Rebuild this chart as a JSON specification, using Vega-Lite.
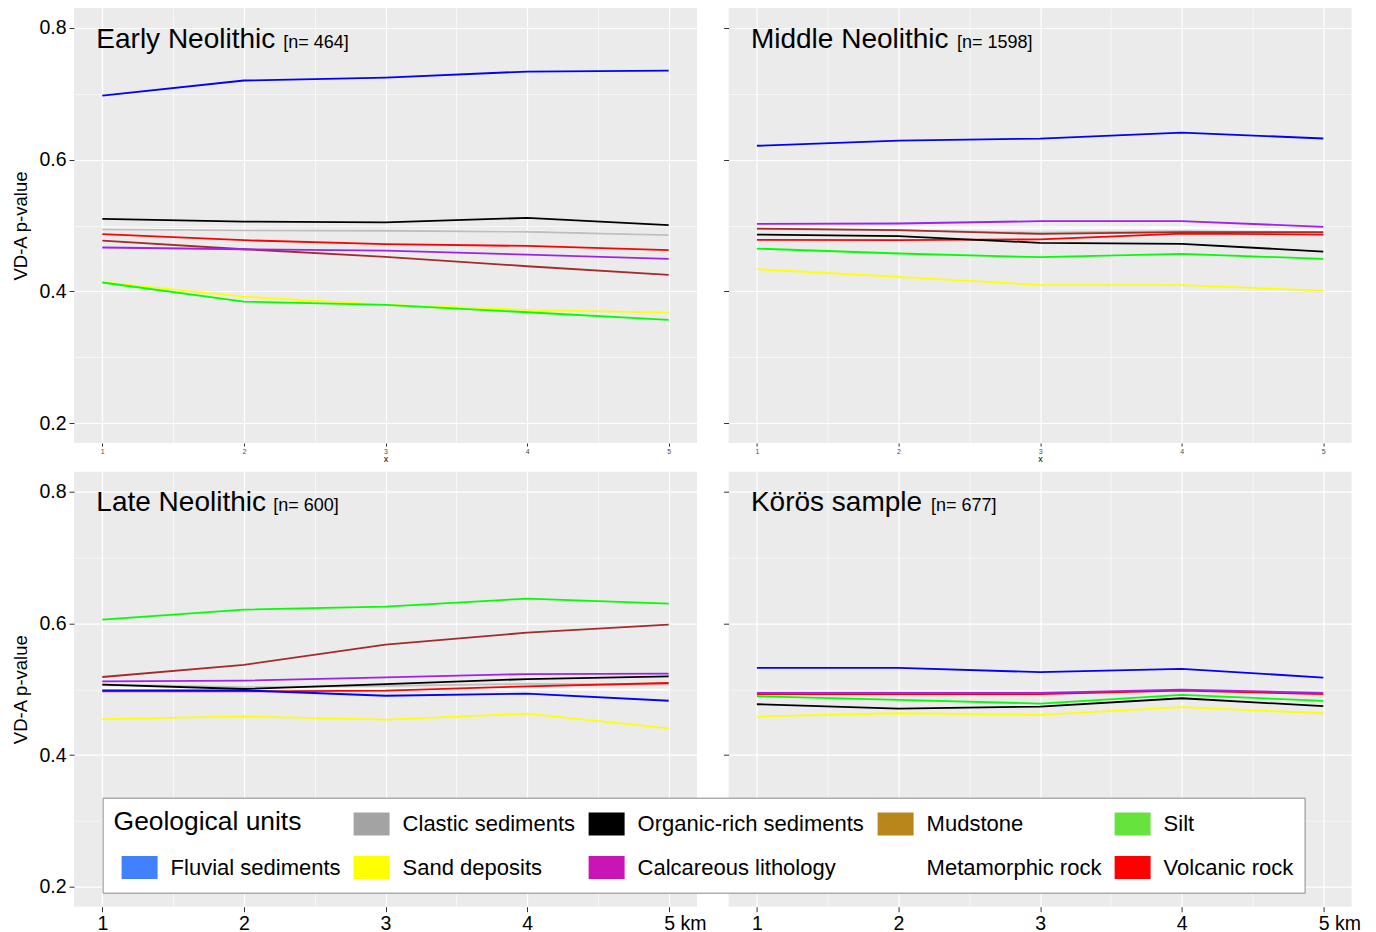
{
  "$schema": "https://vega.github.io/schema/vega-lite/v6.json",
  "autosize": {"type": "pad"},
  "padding": {"left": 11, "top": 8, "right": 0, "bottom": 0},
  "background": "#ffffff",
  "config": {
    "font": "Liberation Sans",
    "view": {"fill": "#ebebeb", "stroke": null},
    "axis": {
      "domain": false,
      "grid": true,
      "gridColor": "#ffffff",
      "tickColor": "#333333",
      "tickWidth": 1,
      "labelFont": "Liberation Sans",
      "titleFont": "Liberation Sans",
      "titleFontWeight": "normal",
      "titleColor": "#000000",
      "labelColor": "#000000"
    }
  },
  "datasets": {
    "vda": [
      {"period": "Early Neolithic", "unit": "Metamorphic rock", "km": 1, "p": 0.4955},
      {"period": "Early Neolithic", "unit": "Metamorphic rock", "km": 2, "p": 0.494},
      {"period": "Early Neolithic", "unit": "Metamorphic rock", "km": 3, "p": 0.4925},
      {"period": "Early Neolithic", "unit": "Metamorphic rock", "km": 4, "p": 0.4915},
      {"period": "Early Neolithic", "unit": "Metamorphic rock", "km": 5, "p": 0.4855},
      {"period": "Early Neolithic", "unit": "Clastic sediments", "km": 1, "p": 0.494},
      {"period": "Early Neolithic", "unit": "Clastic sediments", "km": 2, "p": 0.4925},
      {"period": "Early Neolithic", "unit": "Clastic sediments", "km": 3, "p": 0.492},
      {"period": "Early Neolithic", "unit": "Clastic sediments", "km": 4, "p": 0.4905},
      {"period": "Early Neolithic", "unit": "Clastic sediments", "km": 5, "p": 0.4855},
      {"period": "Early Neolithic", "unit": "Mudstone", "km": 1, "p": 0.4772},
      {"period": "Early Neolithic", "unit": "Mudstone", "km": 2, "p": 0.464},
      {"period": "Early Neolithic", "unit": "Mudstone", "km": 3, "p": 0.4524},
      {"period": "Early Neolithic", "unit": "Mudstone", "km": 4, "p": 0.4382},
      {"period": "Early Neolithic", "unit": "Mudstone", "km": 5, "p": 0.425},
      {"period": "Early Neolithic", "unit": "Volcanic rock", "km": 1, "p": 0.4868},
      {"period": "Early Neolithic", "unit": "Volcanic rock", "km": 2, "p": 0.4777},
      {"period": "Early Neolithic", "unit": "Volcanic rock", "km": 3, "p": 0.4716},
      {"period": "Early Neolithic", "unit": "Volcanic rock", "km": 4, "p": 0.469},
      {"period": "Early Neolithic", "unit": "Volcanic rock", "km": 5, "p": 0.4625},
      {"period": "Early Neolithic", "unit": "Calcareous lithology", "km": 1, "p": 0.4666},
      {"period": "Early Neolithic", "unit": "Calcareous lithology", "km": 2, "p": 0.464},
      {"period": "Early Neolithic", "unit": "Calcareous lithology", "km": 3, "p": 0.462},
      {"period": "Early Neolithic", "unit": "Calcareous lithology", "km": 4, "p": 0.4557},
      {"period": "Early Neolithic", "unit": "Calcareous lithology", "km": 5, "p": 0.4494},
      {"period": "Early Neolithic", "unit": "Sand deposits", "km": 1, "p": 0.414},
      {"period": "Early Neolithic", "unit": "Sand deposits", "km": 2, "p": 0.392},
      {"period": "Early Neolithic", "unit": "Sand deposits", "km": 3, "p": 0.3795},
      {"period": "Early Neolithic", "unit": "Sand deposits", "km": 4, "p": 0.372},
      {"period": "Early Neolithic", "unit": "Sand deposits", "km": 5, "p": 0.3678},
      {"period": "Early Neolithic", "unit": "Silt", "km": 1, "p": 0.4135},
      {"period": "Early Neolithic", "unit": "Silt", "km": 2, "p": 0.3846},
      {"period": "Early Neolithic", "unit": "Silt", "km": 3, "p": 0.3795},
      {"period": "Early Neolithic", "unit": "Silt", "km": 4, "p": 0.3684},
      {"period": "Early Neolithic", "unit": "Silt", "km": 5, "p": 0.3567},
      {"period": "Early Neolithic", "unit": "Organic-rich sediments", "km": 1, "p": 0.51},
      {"period": "Early Neolithic", "unit": "Organic-rich sediments", "km": 2, "p": 0.506},
      {"period": "Early Neolithic", "unit": "Organic-rich sediments", "km": 3, "p": 0.5046},
      {"period": "Early Neolithic", "unit": "Organic-rich sediments", "km": 4, "p": 0.5116},
      {"period": "Early Neolithic", "unit": "Organic-rich sediments", "km": 5, "p": 0.5005},
      {"period": "Early Neolithic", "unit": "Fluvial sediments", "km": 1, "p": 0.697},
      {"period": "Early Neolithic", "unit": "Fluvial sediments", "km": 2, "p": 0.72},
      {"period": "Early Neolithic", "unit": "Fluvial sediments", "km": 3, "p": 0.7245},
      {"period": "Early Neolithic", "unit": "Fluvial sediments", "km": 4, "p": 0.7336},
      {"period": "Early Neolithic", "unit": "Fluvial sediments", "km": 5, "p": 0.735},

      {"period": "Middle Neolithic", "unit": "Metamorphic rock", "km": 1, "p": 0.497},
      {"period": "Middle Neolithic", "unit": "Metamorphic rock", "km": 2, "p": 0.4965},
      {"period": "Middle Neolithic", "unit": "Metamorphic rock", "km": 3, "p": 0.4955},
      {"period": "Middle Neolithic", "unit": "Metamorphic rock", "km": 4, "p": 0.4965},
      {"period": "Middle Neolithic", "unit": "Metamorphic rock", "km": 5, "p": 0.493},
      {"period": "Middle Neolithic", "unit": "Clastic sediments", "km": 1, "p": 0.4945},
      {"period": "Middle Neolithic", "unit": "Clastic sediments", "km": 2, "p": 0.4925},
      {"period": "Middle Neolithic", "unit": "Clastic sediments", "km": 3, "p": 0.489},
      {"period": "Middle Neolithic", "unit": "Clastic sediments", "km": 4, "p": 0.4915},
      {"period": "Middle Neolithic", "unit": "Clastic sediments", "km": 5, "p": 0.489},
      {"period": "Middle Neolithic", "unit": "Mudstone", "km": 1, "p": 0.4954},
      {"period": "Middle Neolithic", "unit": "Mudstone", "km": 2, "p": 0.493},
      {"period": "Middle Neolithic", "unit": "Mudstone", "km": 3, "p": 0.4873},
      {"period": "Middle Neolithic", "unit": "Mudstone", "km": 4, "p": 0.49},
      {"period": "Middle Neolithic", "unit": "Mudstone", "km": 5, "p": 0.4899},
      {"period": "Middle Neolithic", "unit": "Volcanic rock", "km": 1, "p": 0.4782},
      {"period": "Middle Neolithic", "unit": "Volcanic rock", "km": 2, "p": 0.4777},
      {"period": "Middle Neolithic", "unit": "Volcanic rock", "km": 3, "p": 0.479},
      {"period": "Middle Neolithic", "unit": "Volcanic rock", "km": 4, "p": 0.4878},
      {"period": "Middle Neolithic", "unit": "Volcanic rock", "km": 5, "p": 0.4863},
      {"period": "Middle Neolithic", "unit": "Calcareous lithology", "km": 1, "p": 0.5025},
      {"period": "Middle Neolithic", "unit": "Calcareous lithology", "km": 2, "p": 0.503},
      {"period": "Middle Neolithic", "unit": "Calcareous lithology", "km": 3, "p": 0.5066},
      {"period": "Middle Neolithic", "unit": "Calcareous lithology", "km": 4, "p": 0.5066},
      {"period": "Middle Neolithic", "unit": "Calcareous lithology", "km": 5, "p": 0.498},
      {"period": "Middle Neolithic", "unit": "Sand deposits", "km": 1, "p": 0.4337},
      {"period": "Middle Neolithic", "unit": "Sand deposits", "km": 2, "p": 0.422},
      {"period": "Middle Neolithic", "unit": "Sand deposits", "km": 3, "p": 0.4099},
      {"period": "Middle Neolithic", "unit": "Sand deposits", "km": 4, "p": 0.4094},
      {"period": "Middle Neolithic", "unit": "Sand deposits", "km": 5, "p": 0.4013},
      {"period": "Middle Neolithic", "unit": "Silt", "km": 1, "p": 0.465},
      {"period": "Middle Neolithic", "unit": "Silt", "km": 2, "p": 0.4575},
      {"period": "Middle Neolithic", "unit": "Silt", "km": 3, "p": 0.4519},
      {"period": "Middle Neolithic", "unit": "Silt", "km": 4, "p": 0.457},
      {"period": "Middle Neolithic", "unit": "Silt", "km": 5, "p": 0.4494},
      {"period": "Middle Neolithic", "unit": "Organic-rich sediments", "km": 1, "p": 0.4863},
      {"period": "Middle Neolithic", "unit": "Organic-rich sediments", "km": 2, "p": 0.4838},
      {"period": "Middle Neolithic", "unit": "Organic-rich sediments", "km": 3, "p": 0.4737},
      {"period": "Middle Neolithic", "unit": "Organic-rich sediments", "km": 4, "p": 0.4722},
      {"period": "Middle Neolithic", "unit": "Organic-rich sediments", "km": 5, "p": 0.4605},
      {"period": "Middle Neolithic", "unit": "Fluvial sediments", "km": 1, "p": 0.621},
      {"period": "Middle Neolithic", "unit": "Fluvial sediments", "km": 2, "p": 0.6288},
      {"period": "Middle Neolithic", "unit": "Fluvial sediments", "km": 3, "p": 0.6318},
      {"period": "Middle Neolithic", "unit": "Fluvial sediments", "km": 4, "p": 0.641},
      {"period": "Middle Neolithic", "unit": "Fluvial sediments", "km": 5, "p": 0.632},

      {"period": "Late Neolithic", "unit": "Metamorphic rock", "km": 1, "p": 0.5015},
      {"period": "Late Neolithic", "unit": "Metamorphic rock", "km": 2, "p": 0.5005},
      {"period": "Late Neolithic", "unit": "Metamorphic rock", "km": 3, "p": 0.5005},
      {"period": "Late Neolithic", "unit": "Metamorphic rock", "km": 4, "p": 0.5},
      {"period": "Late Neolithic", "unit": "Metamorphic rock", "km": 5, "p": 0.4995},
      {"period": "Late Neolithic", "unit": "Clastic sediments", "km": 1, "p": 0.507},
      {"period": "Late Neolithic", "unit": "Clastic sediments", "km": 2, "p": 0.503},
      {"period": "Late Neolithic", "unit": "Clastic sediments", "km": 3, "p": 0.505},
      {"period": "Late Neolithic", "unit": "Clastic sediments", "km": 4, "p": 0.508},
      {"period": "Late Neolithic", "unit": "Clastic sediments", "km": 5, "p": 0.507},
      {"period": "Late Neolithic", "unit": "Mudstone", "km": 1, "p": 0.5185},
      {"period": "Late Neolithic", "unit": "Mudstone", "km": 2, "p": 0.537},
      {"period": "Late Neolithic", "unit": "Mudstone", "km": 3, "p": 0.5676},
      {"period": "Late Neolithic", "unit": "Mudstone", "km": 4, "p": 0.5858},
      {"period": "Late Neolithic", "unit": "Mudstone", "km": 5, "p": 0.598},
      {"period": "Late Neolithic", "unit": "Volcanic rock", "km": 1, "p": 0.4967},
      {"period": "Late Neolithic", "unit": "Volcanic rock", "km": 2, "p": 0.4967},
      {"period": "Late Neolithic", "unit": "Volcanic rock", "km": 3, "p": 0.4977},
      {"period": "Late Neolithic", "unit": "Volcanic rock", "km": 4, "p": 0.5043},
      {"period": "Late Neolithic", "unit": "Volcanic rock", "km": 5, "p": 0.5094},
      {"period": "Late Neolithic", "unit": "Calcareous lithology", "km": 1, "p": 0.512},
      {"period": "Late Neolithic", "unit": "Calcareous lithology", "km": 2, "p": 0.513},
      {"period": "Late Neolithic", "unit": "Calcareous lithology", "km": 3, "p": 0.518},
      {"period": "Late Neolithic", "unit": "Calcareous lithology", "km": 4, "p": 0.523},
      {"period": "Late Neolithic", "unit": "Calcareous lithology", "km": 5, "p": 0.5235},
      {"period": "Late Neolithic", "unit": "Sand deposits", "km": 1, "p": 0.4547},
      {"period": "Late Neolithic", "unit": "Sand deposits", "km": 2, "p": 0.4587},
      {"period": "Late Neolithic", "unit": "Sand deposits", "km": 3, "p": 0.4537},
      {"period": "Late Neolithic", "unit": "Sand deposits", "km": 4, "p": 0.4628},
      {"period": "Late Neolithic", "unit": "Sand deposits", "km": 5, "p": 0.4405},
      {"period": "Late Neolithic", "unit": "Silt", "km": 1, "p": 0.6056},
      {"period": "Late Neolithic", "unit": "Silt", "km": 2, "p": 0.6208},
      {"period": "Late Neolithic", "unit": "Silt", "km": 3, "p": 0.6253},
      {"period": "Late Neolithic", "unit": "Silt", "km": 4, "p": 0.6375},
      {"period": "Late Neolithic", "unit": "Silt", "km": 5, "p": 0.6299},
      {"period": "Late Neolithic", "unit": "Organic-rich sediments", "km": 1, "p": 0.5068},
      {"period": "Late Neolithic", "unit": "Organic-rich sediments", "km": 2, "p": 0.5003},
      {"period": "Late Neolithic", "unit": "Organic-rich sediments", "km": 3, "p": 0.5078},
      {"period": "Late Neolithic", "unit": "Organic-rich sediments", "km": 4, "p": 0.5154},
      {"period": "Late Neolithic", "unit": "Organic-rich sediments", "km": 5, "p": 0.5195},
      {"period": "Late Neolithic", "unit": "Fluvial sediments", "km": 1, "p": 0.4982},
      {"period": "Late Neolithic", "unit": "Fluvial sediments", "km": 2, "p": 0.4982},
      {"period": "Late Neolithic", "unit": "Fluvial sediments", "km": 3, "p": 0.4901},
      {"period": "Late Neolithic", "unit": "Fluvial sediments", "km": 4, "p": 0.4932},
      {"period": "Late Neolithic", "unit": "Fluvial sediments", "km": 5, "p": 0.4825},

      {"period": "Körös sample", "unit": "Volcanic rock", "km": 1, "p": 0.4926},
      {"period": "Körös sample", "unit": "Volcanic rock", "km": 2, "p": 0.4926},
      {"period": "Körös sample", "unit": "Volcanic rock", "km": 3, "p": 0.4926},
      {"period": "Körös sample", "unit": "Volcanic rock", "km": 4, "p": 0.4977},
      {"period": "Körös sample", "unit": "Volcanic rock", "km": 5, "p": 0.4926},
      {"period": "Körös sample", "unit": "Calcareous lithology", "km": 1, "p": 0.4944},
      {"period": "Körös sample", "unit": "Calcareous lithology", "km": 2, "p": 0.4944},
      {"period": "Körös sample", "unit": "Calcareous lithology", "km": 3, "p": 0.4944},
      {"period": "Körös sample", "unit": "Calcareous lithology", "km": 4, "p": 0.4995},
      {"period": "Körös sample", "unit": "Calcareous lithology", "km": 5, "p": 0.4944},
      {"period": "Körös sample", "unit": "Sand deposits", "km": 1, "p": 0.4585},
      {"period": "Körös sample", "unit": "Sand deposits", "km": 2, "p": 0.4635},
      {"period": "Körös sample", "unit": "Sand deposits", "km": 3, "p": 0.461},
      {"period": "Körös sample", "unit": "Sand deposits", "km": 4, "p": 0.4727},
      {"period": "Körös sample", "unit": "Sand deposits", "km": 5, "p": 0.4635},
      {"period": "Körös sample", "unit": "Silt", "km": 1, "p": 0.4894},
      {"period": "Körös sample", "unit": "Silt", "km": 2, "p": 0.4838},
      {"period": "Körös sample", "unit": "Silt", "km": 3, "p": 0.4782},
      {"period": "Körös sample", "unit": "Silt", "km": 4, "p": 0.4914},
      {"period": "Körös sample", "unit": "Silt", "km": 5, "p": 0.4823},
      {"period": "Körös sample", "unit": "Organic-rich sediments", "km": 1, "p": 0.4772},
      {"period": "Körös sample", "unit": "Organic-rich sediments", "km": 2, "p": 0.4706},
      {"period": "Körös sample", "unit": "Organic-rich sediments", "km": 3, "p": 0.4737},
      {"period": "Körös sample", "unit": "Organic-rich sediments", "km": 4, "p": 0.4863},
      {"period": "Körös sample", "unit": "Organic-rich sediments", "km": 5, "p": 0.4742},
      {"period": "Körös sample", "unit": "Fluvial sediments", "km": 1, "p": 0.5324},
      {"period": "Körös sample", "unit": "Fluvial sediments", "km": 2, "p": 0.5324},
      {"period": "Körös sample", "unit": "Fluvial sediments", "km": 3, "p": 0.5258},
      {"period": "Körös sample", "unit": "Fluvial sediments", "km": 4, "p": 0.5309},
      {"period": "Körös sample", "unit": "Fluvial sediments", "km": 5, "p": 0.5177}
    ],
    "panels": [
      {"period": "Early Neolithic", "n": "[n= 464]"},
      {"period": "Middle Neolithic", "n": "[n= 1598]"},
      {"period": "Late Neolithic", "n": "[n= 600]"},
      {"period": "Körös sample", "n": "[n= 677]"}
    ]
  },
  "columns": 2,
  "bounds": "flush",
  "spacing": {"row": 28.7, "column": 31.6},
  "resolve": {
    "scale": {"x": "independent", "y": "independent", "stroke": "shared", "fill": "independent", "shape": "independent"},
    "legend": {"fill": "independent", "shape": "independent"}
  },
  "concat": [
    {
      "width": 623,
      "height": 435,
      "layer": [
        {
          "data": {"name": "vda"},
          "transform": [{"filter": "datum.period === 'Early Neolithic'"}],
          "mark": {"type": "line", "strokeWidth": 1.8},
          "encoding": {
            "x": {
              "field": "km", "type": "quantitative",
              "scale": {"domain": [0.8, 5.2], "nice": false, "zero": false},
              "axis": {
                "values": [1, 1.5, 2, 2.5, 3, 3.5, 4, 4.5, 5],
                "labelExpr": "datum.value % 1 == 0 ? format(datum.value, 'd') : ''",
                "labelFontSize": 7, "labelColor": "#4d4d4d", "labelPadding": 1,
                "tickSize": 3,
                "tickOpacity": {"condition": {"test": "datum.value % 1 != 0", "value": 0}, "value": 1},
                "gridWidth": {"condition": {"test": "datum.value % 1 != 0", "value": 0.6}, "value": 1.2},
                "title": "x", "titleFontSize": 9, "titlePadding": 0
              }
            },
            "y": {
              "field": "p", "type": "quantitative",
              "scale": {"domain": [0.17, 0.83], "nice": false, "zero": false},
              "axis": {
                "values": [0.2, 0.3, 0.4, 0.5, 0.6, 0.7, 0.8],
                "labelExpr": "round(datum.value * 10) % 2 == 0 ? format(datum.value, '.1f') : ''",
                "labelFontSize": 19.5, "labelPadding": 3, "tickSize": 5,
                "tickOpacity": {"condition": {"test": "round(datum.value * 10) % 2 != 0", "value": 0}, "value": 1},
                "gridWidth": {"condition": {"test": "round(datum.value * 10) % 2 != 0", "value": 0.6}, "value": 1.2},
                "title": "VD-A p-value", "titleFontSize": 18.5, "titlePadding": 8
              }
            },
            "stroke": {
              "field": "unit", "type": "nominal",
              "scale": {
                "domain": ["Geological units", "Clastic sediments", "Organic-rich sediments", "Mudstone", "Silt", "Fluvial sediments", "Sand deposits", "Calcareous lithology", "Metamorphic rock", "Volcanic rock"],
                "range": ["transparent", "#bebebe", "#000000", "#a52a2a", "#00ff00", "#0000ff", "#ffff00", "#a020f0", "#ffffff", "#ff0000"]
              },
              "legend": null
            }
          }
        },
        {
          "data": {"name": "panels"},
          "transform": [{"filter": "datum.period === 'Early Neolithic'"}],
          "mark": {"type": "text", "align": "left", "baseline": "alphabetic", "dx": -6, "dy": 20, "fontSize": 28, "color": "#000000"},
          "encoding": {"x": {"datum": 1}, "y": {"datum": 0.8}, "text": {"field": "period"}}
        },
        {
          "data": {"name": "panels"},
          "transform": [{"filter": "datum.period === 'Early Neolithic'"}],
          "mark": {"type": "text", "align": "left", "baseline": "alphabetic", "dx": 181, "dy": 20, "fontSize": 18, "color": "#000000"},
          "encoding": {"x": {"datum": 1}, "y": {"datum": 0.8}, "text": {"field": "n"}}
        }
      ]
    },
    {
      "width": 623,
      "height": 435,
      "layer": [
        {
          "data": {"name": "vda"},
          "transform": [{"filter": "datum.period === 'Middle Neolithic'"}],
          "mark": {"type": "line", "strokeWidth": 1.8},
          "encoding": {
            "x": {
              "field": "km", "type": "quantitative",
              "scale": {"domain": [0.8, 5.2], "nice": false, "zero": false},
              "axis": {
                "values": [1, 1.5, 2, 2.5, 3, 3.5, 4, 4.5, 5],
                "labelExpr": "datum.value % 1 == 0 ? format(datum.value, 'd') : ''",
                "labelFontSize": 7, "labelColor": "#4d4d4d", "labelPadding": 1,
                "tickSize": 3,
                "tickOpacity": {"condition": {"test": "datum.value % 1 != 0", "value": 0}, "value": 1},
                "gridWidth": {"condition": {"test": "datum.value % 1 != 0", "value": 0.6}, "value": 1.2},
                "title": "x", "titleFontSize": 9, "titlePadding": 0
              }
            },
            "y": {
              "field": "p", "type": "quantitative",
              "scale": {"domain": [0.17, 0.83], "nice": false, "zero": false},
              "axis": {
                "values": [0.2, 0.3, 0.4, 0.5, 0.6, 0.7, 0.8],
                "labels": false, "tickSize": 5,
                "tickOpacity": {"condition": {"test": "round(datum.value * 10) % 2 != 0", "value": 0}, "value": 1},
                "gridWidth": {"condition": {"test": "round(datum.value * 10) % 2 != 0", "value": 0.6}, "value": 1.2},
                "title": null
              }
            },
            "stroke": {"field": "unit", "type": "nominal", "legend": null}
          }
        },
        {
          "data": {"name": "panels"},
          "transform": [{"filter": "datum.period === 'Middle Neolithic'"}],
          "mark": {"type": "text", "align": "left", "baseline": "alphabetic", "dx": -6, "dy": 20, "fontSize": 28, "color": "#000000"},
          "encoding": {"x": {"datum": 1}, "y": {"datum": 0.8}, "text": {"field": "period"}}
        },
        {
          "data": {"name": "panels"},
          "transform": [{"filter": "datum.period === 'Middle Neolithic'"}],
          "mark": {"type": "text", "align": "left", "baseline": "alphabetic", "dx": 200, "dy": 20, "fontSize": 18, "color": "#000000"},
          "encoding": {"x": {"datum": 1}, "y": {"datum": 0.8}, "text": {"field": "n"}}
        }
      ]
    },
    {
      "width": 623,
      "height": 435,
      "layer": [
        {
          "data": {"name": "vda"},
          "transform": [{"filter": "datum.period === 'Late Neolithic'"}],
          "mark": {"type": "line", "strokeWidth": 1.8},
          "encoding": {
            "x": {
              "field": "km", "type": "quantitative",
              "scale": {"domain": [0.8, 5.2], "nice": false, "zero": false},
              "axis": {
                "values": [1, 1.5, 2, 2.5, 3, 3.5, 4, 4.5, 5],
                "labelExpr": "datum.value == 5 ? '5 km' : (datum.value % 1 == 0 ? format(datum.value, 'd') : '')",
                "labelAlign": {"condition": {"test": "datum.value == 5", "value": "left"}, "value": "center"},
                "labelOffset": {"condition": {"test": "datum.value == 5", "value": -5}, "value": 0},
                "labelFontSize": 19.5, "labelPadding": 3, "tickSize": 5,
                "tickOpacity": {"condition": {"test": "datum.value % 1 != 0", "value": 0}, "value": 1},
                "gridWidth": {"condition": {"test": "datum.value % 1 != 0", "value": 0.6}, "value": 1.2},
                "title": null
              }
            },
            "y": {
              "field": "p", "type": "quantitative",
              "scale": {"domain": [0.17, 0.83], "nice": false, "zero": false},
              "axis": {
                "values": [0.2, 0.3, 0.4, 0.5, 0.6, 0.7, 0.8],
                "labelExpr": "round(datum.value * 10) % 2 == 0 ? format(datum.value, '.1f') : ''",
                "labelFontSize": 19.5, "labelPadding": 3, "tickSize": 5,
                "tickOpacity": {"condition": {"test": "round(datum.value * 10) % 2 != 0", "value": 0}, "value": 1},
                "gridWidth": {"condition": {"test": "round(datum.value * 10) % 2 != 0", "value": 0.6}, "value": 1.2},
                "title": "VD-A p-value", "titleFontSize": 18.5, "titlePadding": 8
              }
            },
            "stroke": {"field": "unit", "type": "nominal", "legend": null}
          }
        },
        {
          "data": {"name": "panels"},
          "transform": [{"filter": "datum.period === 'Late Neolithic'"}],
          "mark": {"type": "text", "align": "left", "baseline": "alphabetic", "dx": -6, "dy": 20, "fontSize": 28, "color": "#000000"},
          "encoding": {"x": {"datum": 1}, "y": {"datum": 0.8}, "text": {"field": "period"}}
        },
        {
          "data": {"name": "panels"},
          "transform": [{"filter": "datum.period === 'Late Neolithic'"}],
          "mark": {"type": "text", "align": "left", "baseline": "alphabetic", "dx": 171, "dy": 20, "fontSize": 18, "color": "#000000"},
          "encoding": {"x": {"datum": 1}, "y": {"datum": 0.8}, "text": {"field": "n"}}
        }
      ]
    },
    {
      "width": 623,
      "height": 435,
      "layer": [
        {
          "data": {"name": "vda"},
          "transform": [{"filter": "datum.period === 'Körös sample'"}],
          "mark": {"type": "line", "strokeWidth": 1.8},
          "encoding": {
            "x": {
              "field": "km", "type": "quantitative",
              "scale": {"domain": [0.8, 5.2], "nice": false, "zero": false},
              "axis": {
                "values": [1, 1.5, 2, 2.5, 3, 3.5, 4, 4.5, 5],
                "labelExpr": "datum.value == 5 ? '5 km' : (datum.value % 1 == 0 ? format(datum.value, 'd') : '')",
                "labelAlign": {"condition": {"test": "datum.value == 5", "value": "left"}, "value": "center"},
                "labelOffset": {"condition": {"test": "datum.value == 5", "value": -5}, "value": 0},
                "labelFontSize": 19.5, "labelPadding": 3, "tickSize": 5,
                "tickOpacity": {"condition": {"test": "datum.value % 1 != 0", "value": 0}, "value": 1},
                "gridWidth": {"condition": {"test": "datum.value % 1 != 0", "value": 0.6}, "value": 1.2},
                "title": null
              }
            },
            "y": {
              "field": "p", "type": "quantitative",
              "scale": {"domain": [0.17, 0.83], "nice": false, "zero": false},
              "axis": {
                "values": [0.2, 0.3, 0.4, 0.5, 0.6, 0.7, 0.8],
                "labels": false, "tickSize": 5,
                "tickOpacity": {"condition": {"test": "round(datum.value * 10) % 2 != 0", "value": 0}, "value": 1},
                "gridWidth": {"condition": {"test": "round(datum.value * 10) % 2 != 0", "value": 0.6}, "value": 1.2},
                "title": null
              }
            },
            "stroke": {"field": "unit", "type": "nominal", "legend": null}
          }
        },
        {
          "data": {"name": "panels"},
          "transform": [{"filter": "datum.period === 'Körös sample'"}],
          "mark": {"type": "text", "align": "left", "baseline": "alphabetic", "dx": -6, "dy": 20, "fontSize": 28, "color": "#000000"},
          "encoding": {"x": {"datum": 1}, "y": {"datum": 0.8}, "text": {"field": "period"}}
        },
        {
          "data": {"name": "panels"},
          "transform": [{"filter": "datum.period === 'Körös sample'"}],
          "mark": {"type": "text", "align": "left", "baseline": "alphabetic", "dx": 174, "dy": 20, "fontSize": 18, "color": "#000000"},
          "encoding": {"x": {"datum": 1}, "y": {"datum": 0.8}, "text": {"field": "n"}}
        },
        {
          "data": {"name": "vda"},
          "transform": [{"filter": "datum.period === 'Körös sample'"}],
          "mark": {"type": "point", "filled": true, "opacity": 0, "stroke": "#333333", "strokeWidth": 1.2},
          "encoding": {
            "x": {"field": "km", "type": "quantitative"},
            "y": {"field": "p", "type": "quantitative"},
            "fill": {
              "field": "unit", "type": "nominal",
              "scale": {
                "domain": ["Geological units", "Clastic sediments", "Organic-rich sediments", "Mudstone", "Silt", "Fluvial sediments", "Sand deposits", "Calcareous lithology", "Metamorphic rock", "Volcanic rock"],
                "range": ["transparent", "#a3a3a3", "#000000", "#b8861b", "#66e33c", "#4181ff", "#ffff00", "#c815b5", "#ffffff", "#ff0000"]
              },
              "legend": {
                "orient": "none", "legendX": -626, "legendY": 326,
                "title": "Geological units", "titleFont": "Liberation Sans", "titleFontSize": 26.4, "titleFontWeight": "normal",
                "titleColor": "#000000", "titlePadding": -24, "titleLimit": 400,
                "columns": 5, "direction": "horizontal", "gridAlign": "each",
                "symbolSize": 529, "symbolOpacity": 1, "symbolStrokeWidth": 1.2, "symbolStrokeColor": "#333333",
                "labelFont": "Liberation Sans", "labelFontSize": 22, "labelColor": "#000000",
                "labelOffset": 32, "labelLimit": 0,
                "labelExpr": "datum.value == 'Geological units' ? '' : datum.label",
                "columnPadding": 5, "rowPadding": 15, "padding": 11,
                "fillColor": "#ffffff", "strokeColor": "#888888"
              }
            },
            "shape": {
              "field": "unit", "type": "nominal",
              "scale": {
                "domain": ["Geological units", "Clastic sediments", "Organic-rich sediments", "Mudstone", "Silt", "Fluvial sediments", "Sand deposits", "Calcareous lithology", "Metamorphic rock", "Volcanic rock"],
                "range": ["M0,0", "M-0.39,-1H2.74V1H-0.39Z", "M-0.39,-1H2.74V1H-0.39Z", "M-0.39,-1H2.74V1H-0.39Z", "M-0.39,-1H2.74V1H-0.39Z", "M-0.39,-1H2.74V1H-0.39Z", "M-0.39,-1H2.74V1H-0.39Z", "M-0.39,-1H2.74V1H-0.39Z", "M-0.39,-1H2.74V1H-0.39Z", "M-0.39,-1H2.74V1H-0.39Z"]
              },
              "legend": {
                "orient": "none", "legendX": -626, "legendY": 326,
                "title": "Geological units", "titleFont": "Liberation Sans", "titleFontSize": 26.4, "titleFontWeight": "normal",
                "titleColor": "#000000", "titlePadding": -24, "titleLimit": 400,
                "columns": 5, "direction": "horizontal", "gridAlign": "each",
                "symbolSize": 529, "symbolOpacity": 1, "symbolStrokeWidth": 1.2, "symbolStrokeColor": "#333333",
                "labelFont": "Liberation Sans", "labelFontSize": 22, "labelColor": "#000000",
                "labelOffset": 32, "labelLimit": 0,
                "labelExpr": "datum.value == 'Geological units' ? '' : datum.label",
                "columnPadding": 5, "rowPadding": 15, "padding": 11,
                "fillColor": "#ffffff", "strokeColor": "#888888"
              }
            }
          }
        }
      ]
    }
  ]
}
